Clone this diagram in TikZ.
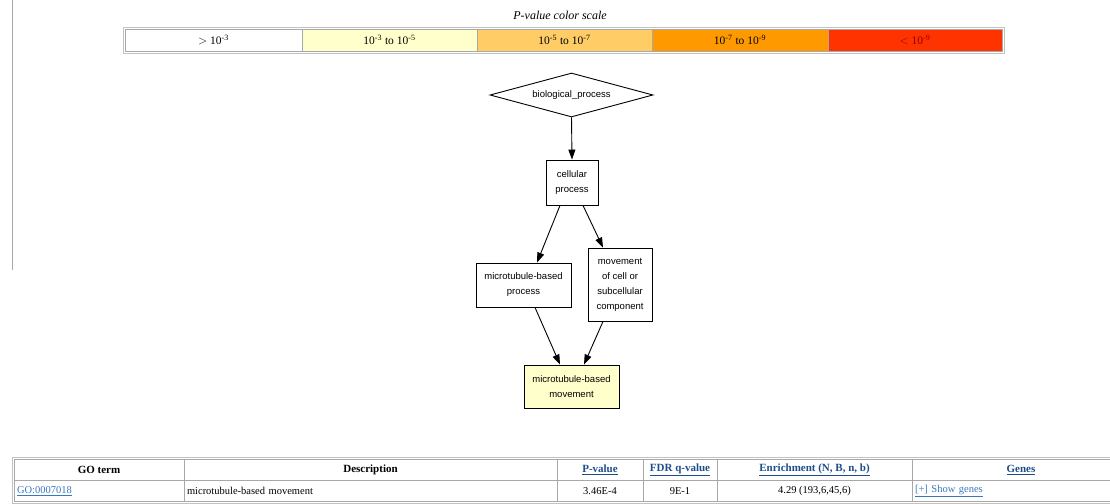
\documentclass[tikz,border=0pt]{standalone}
\usepackage{fontspec}
\setmainfont{Liberation Serif}
\newfontfamily\arialfont{Liberation Sans}
\usetikzlibrary{shapes.geometric,arrows.meta}

\definecolor{pone}{HTML}{FFFFCC}
\definecolor{ptwo}{HTML}{FFCC66}
\definecolor{pthree}{HTML}{FF9900}
\definecolor{pfour}{HTML}{FF3300}
\definecolor{linkblue}{HTML}{3A78BE}
\definecolor{headblue}{HTML}{1F4E8C}
\definecolor{gridgray}{HTML}{A8A8A8}

\tikzset{
  goterm/.style={rectangle,draw,line width=0.9pt,inner sep=0pt,align=center,
    font=\arialfont\fontsize{9.5}{15}\selectfont},
  scalecell/.style={rectangle,draw=gridgray,line width=0.8pt,minimum height=22pt,
    inner sep=0pt,font=\fontsize{11.5}{12}\selectfont},
  tabcell/.style={rectangle,draw=gridgray,line width=0.8pt,fill=white,minimum height=21pt,
    inner sep=0pt,font=\fontsize{10.5}{12}\selectfont},
  headcell/.style={tabcell,font=\bfseries\fontsize{11}{12}\selectfont},
}

\begin{document}
\begin{tikzpicture}[x=1pt,y=-1pt,>={Triangle[length=10pt,width=7pt]}]
    \useasboundingbox (0,0) rectangle (1110,503);
    \draw [gridgray,line width=1pt] (12,0) -- (12,270);

    %color scale
    \node (title) at (560,15) [font=\itshape\fontsize{12}{12}\selectfont] {P-value color scale};
    \node (sframe) at (563.5,40) [draw=gridgray!70,line width=0.8pt,minimum width=881pt,minimum height=26pt,inner sep=0pt] {};
    \node (s1) at (213.5,40) [scalecell,fill=white,minimum width=177pt] {$>$ 10\textsuperscript{-3}};
    \node (s2) at (389.5,40) [scalecell,fill=pone,minimum width=175pt] {10\textsuperscript{-3} to 10\textsuperscript{-5}};
    \node (s3) at (564.5,40) [scalecell,fill=ptwo,minimum width=175pt] {10\textsuperscript{-5} to 10\textsuperscript{-7}};
    \node (s4) at (740,40) [scalecell,fill=pthree,minimum width=176pt] {10\textsuperscript{-7} to 10\textsuperscript{-9}};
    \node (s5) at (915,40) [scalecell,fill=pfour,text=red!55!black,minimum width=174pt] {$<$ 10\textsuperscript{-9}};

    %go graph
    \node (bp) at (571.5,95) [diamond,draw,line width=0.9pt,aspect=3.7,minimum width=163pt,minimum height=44pt,inner sep=0pt,font=\arialfont\fontsize{9.5}{11}\selectfont] {biological\_process};
    \node (cp) at (572,182.5) [goterm,minimum width=52pt,minimum height=45pt] {cellular\\process};
    \node (mbp) at (523.5,285) [goterm,minimum width=95pt,minimum height=44pt] {microtubule-based\\process};
    \node (mcc) at (620,284.5) [goterm,minimum width=64pt,minimum height=73pt] {movement\\of cell or\\subcellular\\component};
    \node (mbm) at (571.5,386.5) [goterm,fill=pone,minimum width=95pt,minimum height=43pt] {microtubule-based\\movement};

    \draw [->,line width=0.9pt] (bp.south) -- (cp.north);
    \draw [->,line width=0.9pt] ([xshift=-12pt]cp.south) -- ([xshift=13.5pt]mbp.north);
    \draw [->,line width=0.9pt] ([xshift=11pt]cp.south) -- ([xshift=-17pt]mcc.north);
    \draw [->,line width=0.9pt] ([xshift=11.5pt]mbp.south) -- ([xshift=-11.5pt]mbm.north);
    \draw [->,line width=0.9pt] ([xshift=-17pt]mcc.south) -- ([xshift=12.5pt]mbm.north);

    %results table
    \node (tframe) at (572,480) [draw=gridgray!70,line width=0.8pt,minimum width=1120pt,minimum height=46pt,inner sep=0pt] {};
    \node (hterm) at (99,470) [headcell,minimum width=170pt] {GO term};
    \node (hdesc) at (370.5,470) [headcell,minimum width=373pt] {Description};
    \node (hpval) at (600,470) [headcell,text=headblue,minimum width=86pt] {\underline{P-value}};
    \node (hfdr) at (680,470) [headcell,text=headblue,minimum width=74pt] {\underline{FDR q-value}};
    \node (henr) at (814.5,470) [headcell,text=headblue,minimum width=195pt] {\underline{Enrichment (N, B, n, b)}};
    \node (hgenes) at (1021,470) [headcell,text=headblue,minimum width=218pt] {\underline{Genes}};

    \node (dterm) at (99,491) [tabcell,text=linkblue,minimum width=170pt,text width=164pt,inner xsep=3pt,align=left] {\underline{GO:0007018}};
    \node (ddesc) at (370.5,491) [tabcell,minimum width=373pt,text width=367pt,inner xsep=3pt,align=left] {microtubule-based movement};
    \node (dpval) at (600,491) [tabcell,minimum width=86pt] {3.46E-4};
    \node (dfdr) at (680,491) [tabcell,minimum width=74pt] {9E-1};
    \node (denr) at (814.5,491) [tabcell,minimum width=195pt] {4.29 (193,6,45,6)};
    \node (dgenes) at (1021,491) [tabcell,text=linkblue,minimum width=218pt,text width=212pt,inner xsep=3pt,align=left] {\underline{[+] Show genes}};

\end{tikzpicture}
\end{document}
